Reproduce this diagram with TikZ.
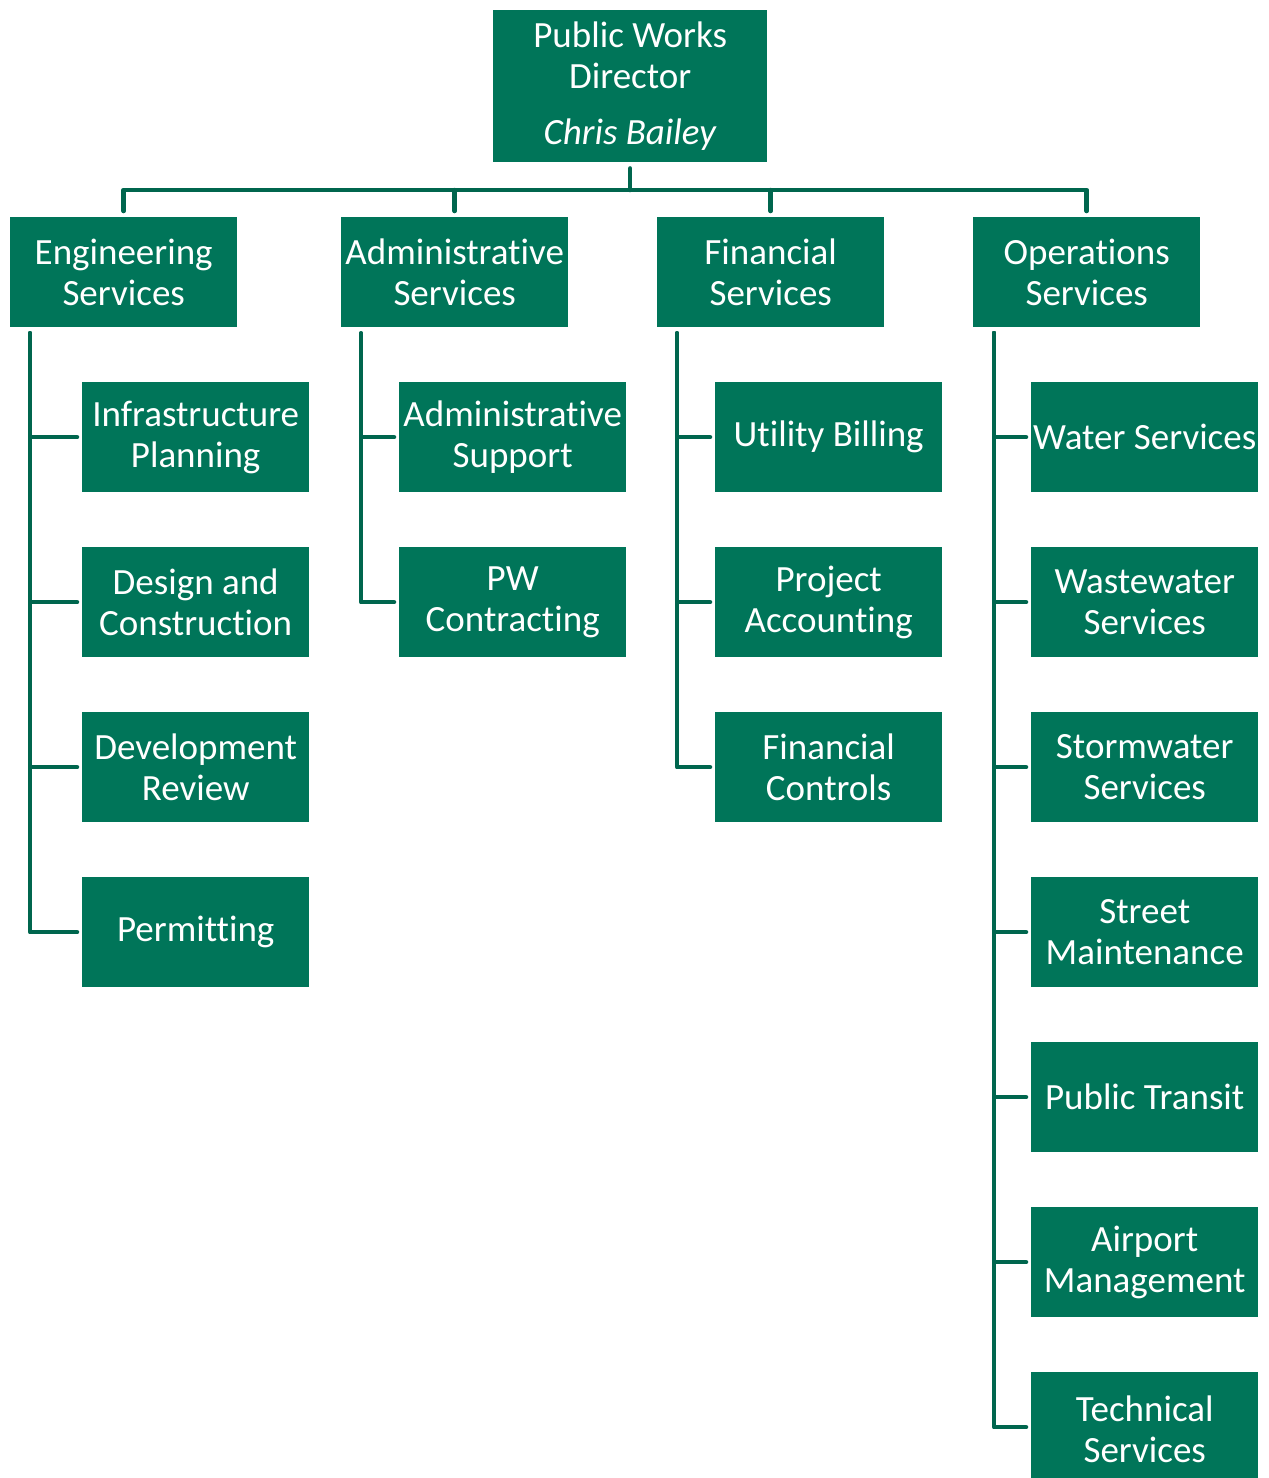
\documentclass[tikz,border=0pt]{standalone}
\usepackage{fontspec}
\setmainfont{Carlito}[Ligatures=NoCommon]
\usetikzlibrary{calc}
\definecolor{boxgreen}{RGB}{0,117,89}
\definecolor{linegreen}{RGB}{0,102,78}
\begin{document}
\begin{tikzpicture}[x=1pt,y=-1pt,
  box/.style={fill=boxgreen,text=white,minimum width=227pt,minimum height=110pt,inner sep=0pt,
    align=center,font=\fontsize{37}{41}\selectfont},
  conn/.style={draw=linegreen,line width=4.5pt,line join=round,line cap=round}]
\useasboundingbox (0,0) rectangle (1269,1478);
\begin{scope}
\clip (0,0) rectangle (1269,1478);
% top
\node[box,minimum width=274pt,minimum height=152pt,anchor=north west] (dir) at (493,10)
  {Public Works\\Director\\[15pt]\textit{Chris Bailey}};
% level 2
\node[box,anchor=north west] (eng) at (10,217) {Engineering\\Services};
\node[box,anchor=north west] (adm) at (341,217) {Administrative\\Services};
\node[box,anchor=north west] (fin) at (657,217) {Financial\\Services};
\node[box,anchor=north west] (ops) at (973,217) {Operations\\Services};
% engineering children
\node[box,anchor=north west] (e1) at (82,382) {Infrastructure\\Planning};
\node[box,anchor=north west] (e2) at (82,547) {Design and\\Construction};
\node[box,anchor=north west] (e3) at (82,712) {Development\\Review};
\node[box,anchor=north west] (e4) at (82,877) {Permitting};
% admin children
\node[box,anchor=north west] (a1) at (399,382) {Administrative\\Support};
\node[box,anchor=north west] (a2) at (399,547) {PW\\Contracting};
% financial children
\node[box,anchor=north west] (f1) at (715,382) {Utility Billing};
\node[box,anchor=north west] (f2) at (715,547) {Project\\Accounting};
\node[box,anchor=north west] (f3) at (715,712) {Financial\\Controls};
% operations children
\node[box,anchor=north west] (o1) at (1031,382) {Water Services};
\node[box,anchor=north west] (o2) at (1031,547) {Wastewater\\Services};
\node[box,anchor=north west] (o3) at (1031,712) {Stormwater\\Services};
\node[box,anchor=north west] (o4) at (1031,877) {Street\\Maintenance};
\node[box,anchor=north west] (o5) at (1031,1042) {Public Transit};
\node[box,anchor=north west] (o6) at (1031,1207) {Airport\\Management};
\node[box,anchor=north west,minimum height=115pt] (o7) at (1031,1372) {Technical\\Services};
\end{scope}
\coordinate (bar) at (0,190);
% top connectors
\draw[conn] ([yshift=-6pt]dir.south) -- (dir.south |- bar);
\draw[conn] ([yshift=6pt]eng.north) -- (eng.north |- bar) -- (ops.north |- bar) -- ([yshift=6pt]ops.north);
\draw[conn] ([yshift=6pt]adm.north) -- (adm.north |- bar);
\draw[conn] ([yshift=6pt]fin.north) -- (fin.north |- bar);
% engineering
\foreach \c in {e1,e2,e3,e4}
  \draw[conn] ([xshift=20pt,yshift=-6pt]eng.south west) |- ([xshift=-5pt]\c.west);
% admin
\foreach \c in {a1,a2}
  \draw[conn] ([xshift=20pt,yshift=-6pt]adm.south west) |- ([xshift=-5pt]\c.west);
% financial
\foreach \c in {f1,f2,f3}
  \draw[conn] ([xshift=20pt,yshift=-6pt]fin.south west) |- ([xshift=-5pt]\c.west);
% operations
\foreach \c in {o1,o2,o3,o4,o5,o6}
  \draw[conn] ([xshift=21pt,yshift=-6pt]ops.south west) |- ([xshift=-5pt]\c.west);
\draw[conn] ([xshift=21pt,yshift=-6pt]ops.south west) |- ([xshift=-5pt,yshift=2.5pt]o7.west);
\end{tikzpicture}
\end{document}
